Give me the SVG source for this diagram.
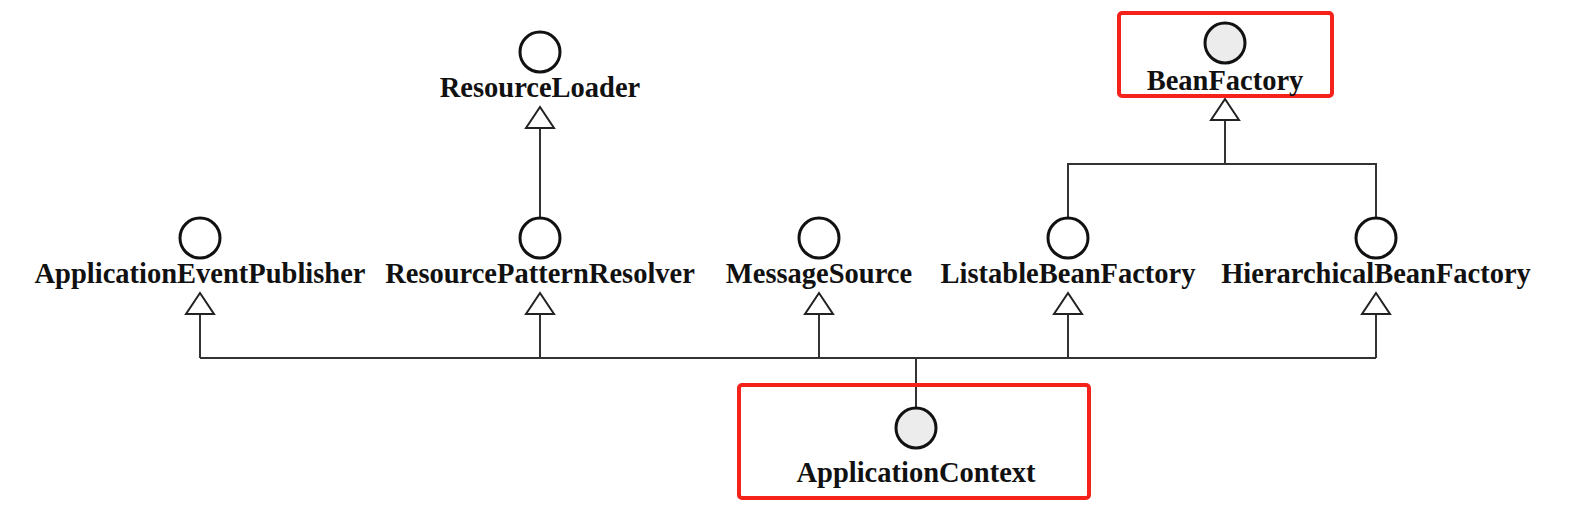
<svg xmlns="http://www.w3.org/2000/svg" width="1588" height="511" viewBox="0 0 1588 511">
<style>
.lbl{font-family:"Liberation Serif","Times New Roman",serif;font-weight:bold;font-size:28.5px;fill:#111;text-anchor:middle}
.ic{fill:#fff;stroke:#111;stroke-width:3}
.ic.hl{fill:#ececec}
.hbox{fill:none;stroke:#f5221b;stroke-width:4}
.ln{fill:none;stroke:#333;stroke-width:2}
.tri{fill:#fff;stroke:#222;stroke-width:2;stroke-linejoin:miter}
</style>
<rect width="1588" height="511" fill="#fff"/>
<g id="connectors">
<path class="ln" d="M540 128V218"/>
<path class="ln" d="M1225 120V164M1068 218V164H1376V218"/>
<path class="ln" d="M200 314V358M540 314V358M819 314V358M1068 314V358M1376 314V358M200 358H1376M916 358V408"/>
<path class="tri" d="M540 107L526 128H554Z"/>
<path class="tri" d="M1225 99L1211 120H1239Z"/>
<path class="tri" d="M200 293L186 314H214Z"/>
<path class="tri" d="M540 293L526 314H554Z"/>
<path class="tri" d="M819 293L805 314H833Z"/>
<path class="tri" d="M1068 293L1054 314H1082Z"/>
<path class="tri" d="M1376 293L1362 314H1390Z"/>
</g>
<g id="ResourceLoader">
<circle class="ic" cx="540" cy="52" r="20"/>
<text class="lbl" x="540" y="97">ResourceLoader</text>
</g>
<g id="BeanFactory">
<rect class="hbox" x="1119" y="13" width="213" height="83" rx="3"/>
<circle class="ic hl" cx="1225" cy="43" r="20"/>
<text class="lbl" x="1225" y="90">BeanFactory</text>
</g>
<g id="ApplicationEventPublisher">
<circle class="ic" cx="200" cy="238" r="20"/>
<text class="lbl" x="200" y="283">ApplicationEventPublisher</text>
</g>
<g id="ResourcePatternResolver">
<circle class="ic" cx="540" cy="238" r="20"/>
<text class="lbl" x="540" y="283">ResourcePatternResolver</text>
</g>
<g id="MessageSource">
<circle class="ic" cx="819" cy="238" r="20"/>
<text class="lbl" x="819" y="283">MessageSource</text>
</g>
<g id="ListableBeanFactory">
<circle class="ic" cx="1068" cy="238" r="20"/>
<text class="lbl" x="1068" y="283">ListableBeanFactory</text>
</g>
<g id="HierarchicalBeanFactory">
<circle class="ic" cx="1376" cy="238" r="20"/>
<text class="lbl" x="1376" y="283">HierarchicalBeanFactory</text>
</g>
<g id="ApplicationContext">
<rect class="hbox" x="739" y="385" width="350" height="113" rx="3"/>
<circle class="ic hl" cx="916" cy="428" r="20"/>
<text class="lbl" x="916" y="482">ApplicationContext</text>
</g>
</svg>
